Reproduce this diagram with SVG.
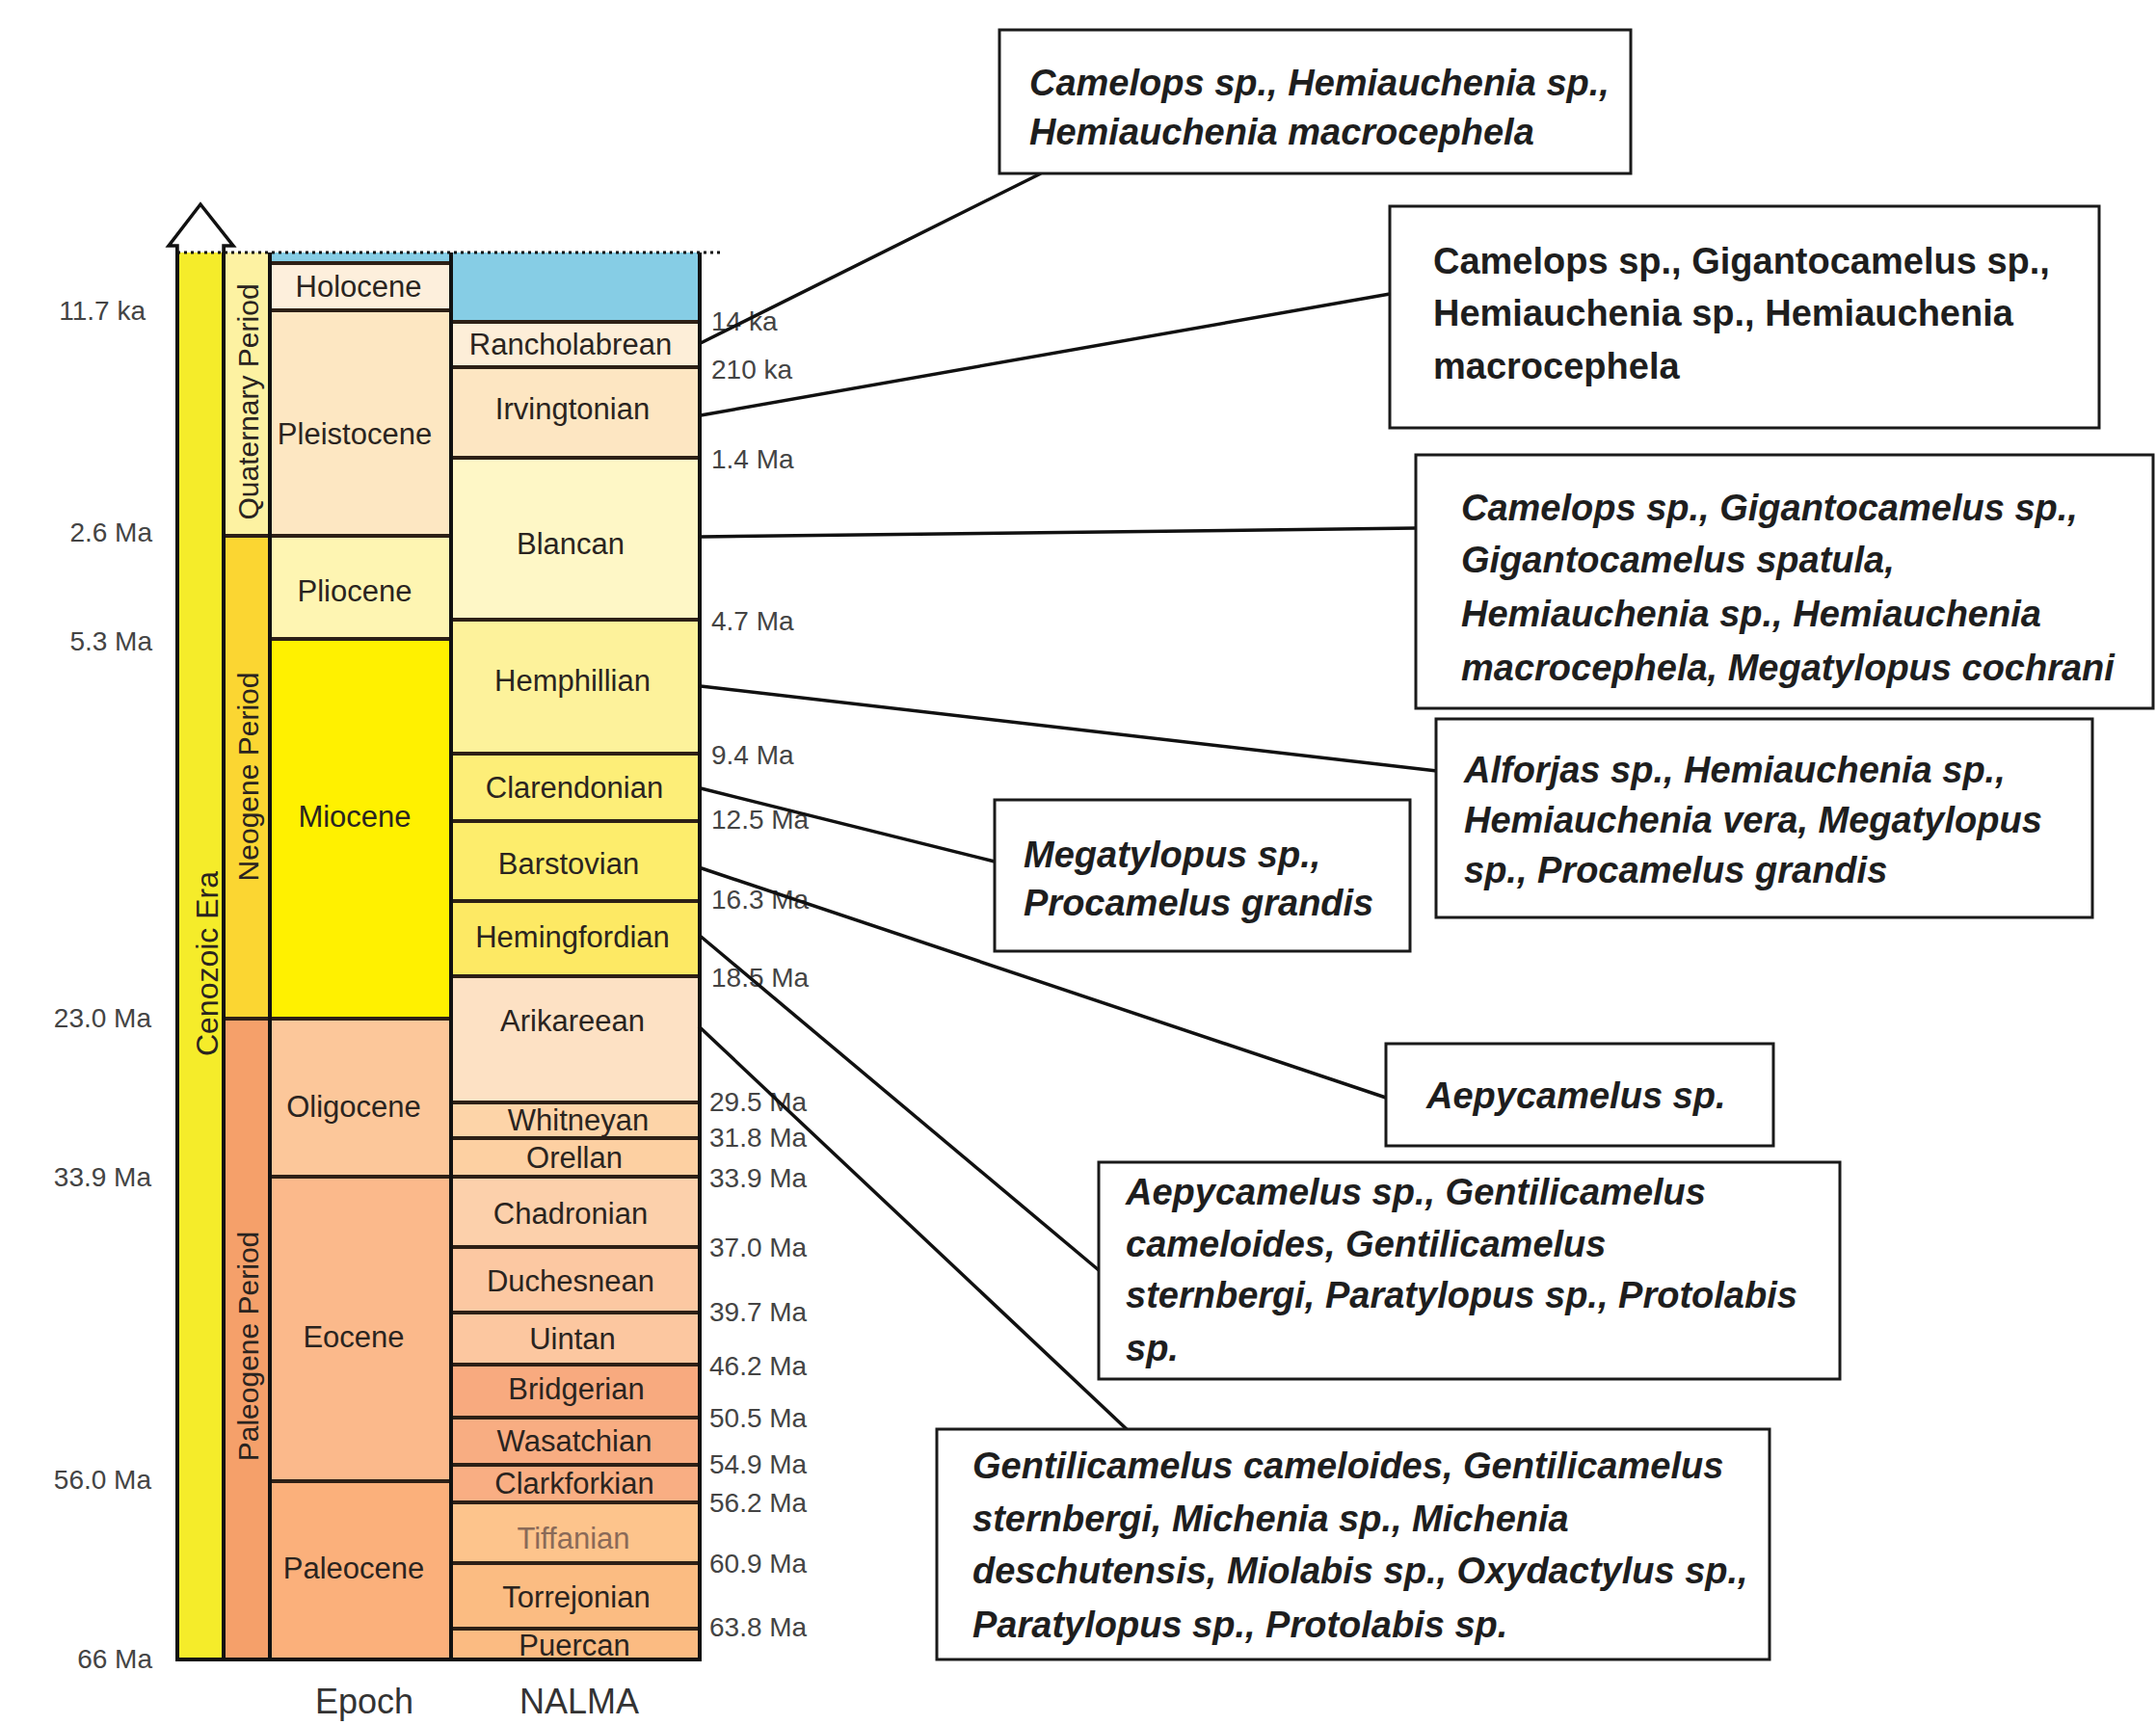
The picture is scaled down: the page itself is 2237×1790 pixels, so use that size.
<svg xmlns="http://www.w3.org/2000/svg" width="2237" height="1790" viewBox="0 0 2237 1790">
<style>
.lbl{font-family:"Liberation Sans",Arial,sans-serif;font-size:31px;fill:#2a2420;text-anchor:middle}
.per{font-family:"Liberation Sans",Arial,sans-serif;font-size:30px;fill:#2a2420;text-anchor:middle}
.dl{font-family:"Liberation Sans",Arial,sans-serif;font-size:28px;fill:#444;text-anchor:end}
.dr{font-family:"Liberation Sans",Arial,sans-serif;font-size:28px;fill:#444}
.ax{font-family:"Liberation Sans",Arial,sans-serif;font-size:36px;fill:#333;text-anchor:middle}
.bl{stroke:#2d2016;stroke-width:4}
.bd{stroke:#111;stroke-width:4}
.box rect{fill:#fff;stroke:#1a1a1a;stroke-width:3}
.box text{font-family:"Liberation Sans",Arial,sans-serif;font-weight:bold;font-style:italic;font-size:38px;fill:#1e1e1e}
.box text.up{font-style:normal}
.con line{stroke:#111;stroke-width:3.5}
</style>

<g id="timescale">
  <!-- era bar -->
  <rect x="184" y="262" width="48" height="1460" fill="#f5ec2a"/>
  <!-- periods -->
  <rect x="232" y="262" width="48" height="294" fill="#fdf2a2"/>
  <rect x="232" y="556" width="48" height="501" fill="#fbd632"/>
  <rect x="232" y="1057" width="48" height="665" fill="#f5a06a"/>
  <!-- epochs -->
  <rect x="280" y="262" width="188" height="11" fill="#86cde5"/>
  <rect x="280" y="273" width="188" height="49" fill="#fdefdc"/>
  <rect x="280" y="322" width="188" height="234" fill="#fde7c2"/>
  <rect x="280" y="556" width="188" height="107" fill="#fef5b2"/>
  <rect x="280" y="663" width="188" height="394" fill="#fff100"/>
  <rect x="280" y="1057" width="188" height="164" fill="#fcc79a"/>
  <rect x="280" y="1221" width="188" height="316" fill="#fbb98b"/>
  <rect x="280" y="1537" width="188" height="185" fill="#fbb07b"/>
  <!-- NALMA -->
  <rect x="468" y="262" width="258" height="72" fill="#86cde5"/>
  <rect x="468" y="334" width="258" height="47" fill="#fdeed8"/>
  <rect x="468" y="381" width="258" height="94" fill="#fde6c2"/>
  <rect x="468" y="475" width="258" height="168" fill="#fef7c6"/>
  <rect x="468" y="643" width="258" height="139" fill="#fdf29b"/>
  <rect x="468" y="782" width="258" height="70" fill="#fdee78"/>
  <rect x="468" y="852" width="258" height="83" fill="#fded6c"/>
  <rect x="468" y="935" width="258" height="78" fill="#fde964"/>
  <rect x="468" y="1013" width="258" height="131" fill="#fde1c4"/>
  <rect x="468" y="1144" width="258" height="37" fill="#fdd4a8"/>
  <rect x="468" y="1181" width="258" height="40" fill="#fdd0a2"/>
  <rect x="468" y="1221" width="258" height="73" fill="#fcd0ab"/>
  <rect x="468" y="1294" width="258" height="68" fill="#fcc8a2"/>
  <rect x="468" y="1362" width="258" height="54" fill="#fcc7a0"/>
  <rect x="468" y="1416" width="258" height="55" fill="#f8aa7f"/>
  <rect x="468" y="1471" width="258" height="49" fill="#f8ad82"/>
  <rect x="468" y="1520" width="258" height="39" fill="#f9ae83"/>
  <rect x="468" y="1559" width="258" height="63" fill="#fdc48c"/>
  <rect x="468" y="1622" width="258" height="68" fill="#fbbc82"/>
  <rect x="468" y="1690" width="258" height="32" fill="#fbbb82"/>

  <!-- boundary lines -->
  <g class="bl">
    <line x1="232" y1="556" x2="280" y2="556"/>
    <line x1="232" y1="1057" x2="280" y2="1057"/>
    <line x1="280" y1="273" x2="468" y2="273"/>
    <line x1="280" y1="322" x2="468" y2="322"/>
    <line x1="280" y1="556" x2="468" y2="556"/>
    <line x1="280" y1="663" x2="468" y2="663"/>
    <line x1="280" y1="1057" x2="468" y2="1057"/>
    <line x1="280" y1="1221" x2="468" y2="1221"/>
    <line x1="280" y1="1537" x2="468" y2="1537"/>
    <line x1="468" y1="334" x2="726" y2="334"/>
    <line x1="468" y1="381" x2="726" y2="381"/>
    <line x1="468" y1="475" x2="726" y2="475"/>
    <line x1="468" y1="643" x2="726" y2="643"/>
    <line x1="468" y1="782" x2="726" y2="782"/>
    <line x1="468" y1="852" x2="726" y2="852"/>
    <line x1="468" y1="935" x2="726" y2="935"/>
    <line x1="468" y1="1013" x2="726" y2="1013"/>
    <line x1="468" y1="1144" x2="726" y2="1144"/>
    <line x1="468" y1="1181" x2="726" y2="1181"/>
    <line x1="468" y1="1221" x2="726" y2="1221"/>
    <line x1="468" y1="1294" x2="726" y2="1294"/>
    <line x1="468" y1="1362" x2="726" y2="1362"/>
    <line x1="468" y1="1416" x2="726" y2="1416"/>
    <line x1="468" y1="1471" x2="726" y2="1471"/>
    <line x1="468" y1="1520" x2="726" y2="1520"/>
    <line x1="468" y1="1559" x2="726" y2="1559"/>
    <line x1="468" y1="1622" x2="726" y2="1622"/>
    <line x1="468" y1="1690" x2="726" y2="1690"/>
  </g>
  <g class="bd">
    <line x1="184" y1="255" x2="184" y2="1724"/>
    <line x1="232" y1="255" x2="232" y2="1724"/>
    <line x1="280" y1="262" x2="280" y2="1724"/>
    <line x1="468" y1="262" x2="468" y2="1724"/>
    <line x1="726" y1="262" x2="726" y2="1724"/>
    <line x1="182" y1="1722" x2="728" y2="1722"/>
  </g>
  <path d="M184,262 V255 H175 L208,212 L242,255 H232 V262" fill="#fff" stroke="#111" stroke-width="3.5" stroke-linejoin="miter"/>
  <line x1="184" y1="262" x2="750" y2="262" stroke="#111" stroke-width="3" stroke-dasharray="3 4"/>
</g>

<g id="era-period-labels">
  <text class="per" style="font-size:32px" transform="translate(226,1000) rotate(-90)">Cenozoic Era</text>
  <text class="per" transform="translate(268,417) rotate(-90)">Quaternary Period</text>
  <text class="per" transform="translate(268,806) rotate(-90)">Neogene Period</text>
  <text class="per" transform="translate(268,1397) rotate(-90)">Paleogene Period</text>
</g>

<g id="epoch-labels">
  <text class="lbl" x="372" y="308">Holocene</text>
  <text class="lbl" x="368" y="461">Pleistocene</text>
  <text class="lbl" x="368" y="624">Pliocene</text>
  <text class="lbl" x="368" y="858">Miocene</text>
  <text class="lbl" x="367" y="1159">Oligocene</text>
  <text class="lbl" x="367" y="1398">Eocene</text>
  <text class="lbl" x="367" y="1638">Paleocene</text>
</g>

<g id="nalma-labels">
  <text class="lbl" x="592" y="368">Rancholabrean</text>
  <text class="lbl" x="594" y="435">Irvingtonian</text>
  <text class="lbl" x="592" y="575">Blancan</text>
  <text class="lbl" x="594" y="717">Hemphillian</text>
  <text class="lbl" x="596" y="828">Clarendonian</text>
  <text class="lbl" x="590" y="907">Barstovian</text>
  <text class="lbl" x="594" y="983">Hemingfordian</text>
  <text class="lbl" x="594" y="1070">Arikareean</text>
  <text class="lbl" x="600" y="1173">Whitneyan</text>
  <text class="lbl" x="596" y="1212">Orellan</text>
  <text class="lbl" x="592" y="1270">Chadronian</text>
  <text class="lbl" x="592" y="1340">Duchesnean</text>
  <text class="lbl" x="594" y="1400">Uintan</text>
  <text class="lbl" x="598" y="1452">Bridgerian</text>
  <text class="lbl" x="596" y="1506">Wasatchian</text>
  <text class="lbl" x="596" y="1550">Clarkforkian</text>
  <text class="lbl" x="595" y="1607" style="fill:#8a6a58">Tiffanian</text>
  <text class="lbl" x="598" y="1668">Torrejonian</text>
  <text class="lbl" x="596" y="1718">Puercan</text>
</g>

<g id="left-dates">
  <text class="dl" x="151" y="332">11.7 ka</text>
  <text class="dl" x="158" y="562">2.6 Ma</text>
  <text class="dl" x="158" y="675">5.3 Ma</text>
  <text class="dl" x="157" y="1066">23.0 Ma</text>
  <text class="dl" x="157" y="1231">33.9 Ma</text>
  <text class="dl" x="157" y="1545">56.0 Ma</text>
  <text class="dl" x="158" y="1731">66 Ma</text>
</g>

<g id="right-dates">
  <text class="dr" x="738" y="343">14 ka</text>
  <text class="dr" x="738" y="393">210 ka</text>
  <text class="dr" x="738" y="486">1.4 Ma</text>
  <text class="dr" x="738" y="654">4.7 Ma</text>
  <text class="dr" x="738" y="793">9.4 Ma</text>
  <text class="dr" x="738" y="860">12.5 Ma</text>
  <text class="dr" x="738" y="943">16.3 Ma</text>
  <text class="dr" x="738" y="1024">18.5 Ma</text>
  <text class="dr" x="736" y="1153">29.5 Ma</text>
  <text class="dr" x="736" y="1190">31.8 Ma</text>
  <text class="dr" x="736" y="1232">33.9 Ma</text>
  <text class="dr" x="736" y="1304">37.0 Ma</text>
  <text class="dr" x="736" y="1371">39.7 Ma</text>
  <text class="dr" x="736" y="1427">46.2 Ma</text>
  <text class="dr" x="736" y="1481">50.5 Ma</text>
  <text class="dr" x="736" y="1529">54.9 Ma</text>
  <text class="dr" x="736" y="1569">56.2 Ma</text>
  <text class="dr" x="736" y="1632">60.9 Ma</text>
  <text class="dr" x="736" y="1698">63.8 Ma</text>
</g>

<g id="axis-labels">
  <text class="ax" x="378" y="1778">Epoch</text>
  <text class="ax" x="601" y="1778">NALMA</text>
</g>

<g id="connectors" class="con">
  <line x1="727" y1="356" x2="1080" y2="180"/>
  <line x1="727" y1="431" x2="1442" y2="305"/>
  <line x1="727" y1="557" x2="1469" y2="548"/>
  <line x1="727" y1="712" x2="1491" y2="800"/>
  <line x1="727" y1="818" x2="1032" y2="894"/>
  <line x1="725" y1="900" x2="1438" y2="1139"/>
  <line x1="725" y1="970" x2="1140" y2="1318"/>
  <line x1="725" y1="1065" x2="1170" y2="1484"/>
</g>

<g id="box-rancholabrean" class="box">
  <rect x="1037" y="31" width="655" height="149"/>
  <text x="1068" y="99">Camelops sp., Hemiauchenia sp.,</text>
  <text x="1068" y="150">Hemiauchenia macrocephela</text>
</g>
<g id="box-irvingtonian" class="box">
  <rect x="1442" y="214" width="736" height="230"/>
  <text class="up" x="1487" y="284">Camelops sp., Gigantocamelus sp.,</text>
  <text class="up" x="1487" y="338">Hemiauchenia sp., Hemiauchenia</text>
  <text class="up" x="1487" y="393">macrocephela</text>
</g>
<g id="box-blancan" class="box">
  <rect x="1469" y="472" width="765" height="263"/>
  <text x="1516" y="540">Camelops sp., Gigantocamelus sp.,</text>
  <text x="1516" y="594">Gigantocamelus spatula,</text>
  <text x="1516" y="650">Hemiauchenia sp., Hemiauchenia</text>
  <text x="1516" y="706">macrocephela, Megatylopus cochrani</text>
</g>
<g id="box-hemphillian" class="box">
  <rect x="1490" y="746" width="681" height="206"/>
  <text x="1519" y="812">Alforjas sp., Hemiauchenia sp.,</text>
  <text x="1519" y="864">Hemiauchenia vera, Megatylopus</text>
  <text x="1519" y="916">sp., Procamelus grandis</text>
</g>
<g id="box-clarendonian" class="box">
  <rect x="1032" y="830" width="431" height="157"/>
  <text x="1062" y="900">Megatylopus sp.,</text>
  <text x="1062" y="950">Procamelus grandis</text>
</g>
<g id="box-barstovian" class="box">
  <rect x="1438" y="1083" width="402" height="106"/>
  <text x="1480" y="1150">Aepycamelus sp.</text>
</g>
<g id="box-hemingfordian" class="box">
  <rect x="1140" y="1206" width="769" height="225"/>
  <text x="1168" y="1250">Aepycamelus sp., Gentilicamelus</text>
  <text x="1168" y="1304">cameloides, Gentilicamelus</text>
  <text x="1168" y="1357">sternbergi, Paratylopus sp., Protolabis</text>
  <text x="1168" y="1412">sp.</text>
</g>
<g id="box-arikareean" class="box">
  <rect x="972" y="1483" width="864" height="239"/>
  <text x="1009" y="1534">Gentilicamelus cameloides, Gentilicamelus</text>
  <text x="1009" y="1589">sternbergi, Michenia sp., Michenia</text>
  <text x="1009" y="1643">deschutensis, Miolabis sp., Oxydactylus sp.,</text>
  <text x="1009" y="1699">Paratylopus sp., Protolabis sp.</text>
</g>
</svg>
